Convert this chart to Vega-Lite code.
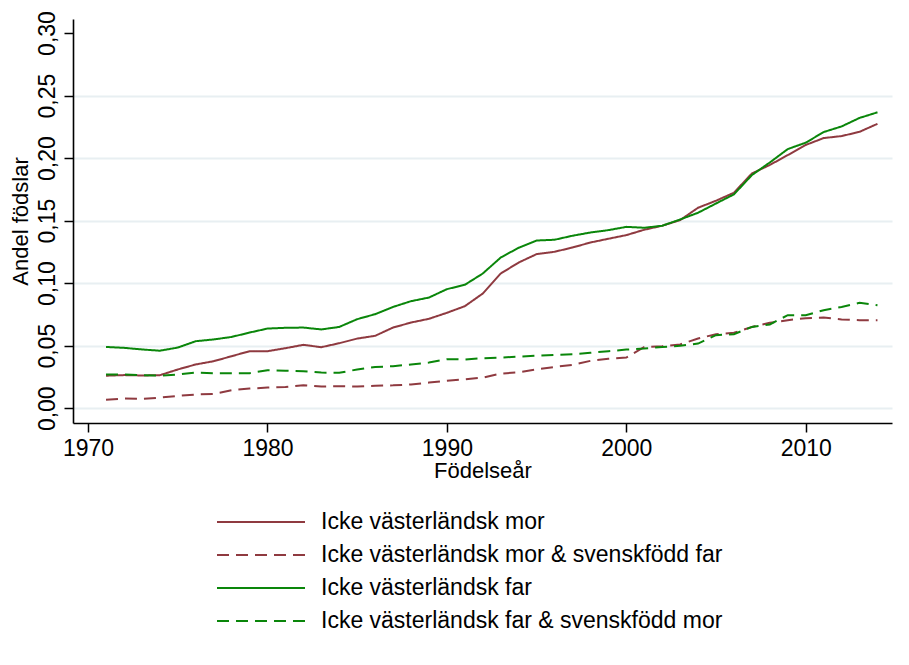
{
  "$schema": "https://vega.github.io/schema/vega-lite/v6.json",
  "width": 819,
  "height": 404,
  "autosize": {"type": "none"},
  "padding": {"left": 73, "top": 19, "right": 17, "bottom": 242},
  "background": "white",
  "config": {
    "view": {"stroke": null},
    "font": "Liberation Sans"
  },
  "data": {
    "values": [
      {"year": 1971, "Icke västerländsk mor": 0.026, "Icke västerländsk mor & svenskfödd far": 0.0067, "Icke västerländsk far": 0.049, "Icke västerländsk far & svenskfödd mor": 0.027},
      {"year": 1972, "Icke västerländsk mor": 0.0265, "Icke västerländsk mor & svenskfödd far": 0.0077, "Icke västerländsk far": 0.0483, "Icke västerländsk far & svenskfödd mor": 0.027},
      {"year": 1973, "Icke västerländsk mor": 0.0262, "Icke västerländsk mor & svenskfödd far": 0.0075, "Icke västerländsk far": 0.047, "Icke västerländsk far & svenskfödd mor": 0.0265},
      {"year": 1974, "Icke västerländsk mor": 0.0264, "Icke västerländsk mor & svenskfödd far": 0.0085, "Icke västerländsk far": 0.046, "Icke västerländsk far & svenskfödd mor": 0.026},
      {"year": 1975, "Icke västerländsk mor": 0.031, "Icke västerländsk mor & svenskfödd far": 0.0099, "Icke västerländsk far": 0.0485, "Icke västerländsk far & svenskfödd mor": 0.027},
      {"year": 1976, "Icke västerländsk mor": 0.035, "Icke västerländsk mor & svenskfödd far": 0.011, "Icke västerländsk far": 0.0536, "Icke västerländsk far & svenskfödd mor": 0.0285},
      {"year": 1977, "Icke västerländsk mor": 0.0376, "Icke västerländsk mor & svenskfödd far": 0.0115, "Icke västerländsk far": 0.055, "Icke västerländsk far & svenskfödd mor": 0.028},
      {"year": 1978, "Icke västerländsk mor": 0.0416, "Icke västerländsk mor & svenskfödd far": 0.0144, "Icke västerländsk far": 0.057, "Icke västerländsk far & svenskfödd mor": 0.028},
      {"year": 1979, "Icke västerländsk mor": 0.0456, "Icke västerländsk mor & svenskfödd far": 0.0157, "Icke västerländsk far": 0.0605, "Icke västerländsk far & svenskfödd mor": 0.028},
      {"year": 1980, "Icke västerländsk mor": 0.0456, "Icke västerländsk mor & svenskfödd far": 0.0165, "Icke västerländsk far": 0.0637, "Icke västerländsk far & svenskfödd mor": 0.0304},
      {"year": 1981, "Icke västerländsk mor": 0.048, "Icke västerländsk mor & svenskfödd far": 0.017, "Icke västerländsk far": 0.0643, "Icke västerländsk far & svenskfödd mor": 0.03},
      {"year": 1982, "Icke västerländsk mor": 0.0507, "Icke västerländsk mor & svenskfödd far": 0.0184, "Icke västerländsk far": 0.0645, "Icke västerländsk far & svenskfödd mor": 0.0296},
      {"year": 1983, "Icke västerländsk mor": 0.0488, "Icke västerländsk mor & svenskfödd far": 0.0173, "Icke västerländsk far": 0.063, "Icke västerländsk far & svenskfödd mor": 0.0285},
      {"year": 1984, "Icke västerländsk mor": 0.052, "Icke västerländsk mor & svenskfödd far": 0.0176, "Icke västerländsk far": 0.065, "Icke västerländsk far & svenskfödd mor": 0.0283},
      {"year": 1985, "Icke västerländsk mor": 0.0557, "Icke västerländsk mor & svenskfödd far": 0.0173, "Icke västerländsk far": 0.0712, "Icke västerländsk far & svenskfödd mor": 0.031},
      {"year": 1986, "Icke västerländsk mor": 0.0579, "Icke västerländsk mor & svenskfödd far": 0.018, "Icke västerländsk far": 0.0752, "Icke västerländsk far & svenskfödd mor": 0.033},
      {"year": 1987, "Icke västerländsk mor": 0.0645, "Icke västerländsk mor & svenskfödd far": 0.0183, "Icke västerländsk far": 0.081, "Icke västerländsk far & svenskfödd mor": 0.0336},
      {"year": 1988, "Icke västerländsk mor": 0.0685, "Icke västerländsk mor & svenskfödd far": 0.019, "Icke västerländsk far": 0.0856, "Icke västerländsk far & svenskfödd mor": 0.035},
      {"year": 1989, "Icke västerländsk mor": 0.0715, "Icke västerländsk mor & svenskfödd far": 0.0205, "Icke västerländsk far": 0.0885, "Icke västerländsk far & svenskfödd mor": 0.0365},
      {"year": 1990, "Icke västerländsk mor": 0.0763, "Icke västerländsk mor & svenskfödd far": 0.022, "Icke västerländsk far": 0.0952, "Icke västerländsk far & svenskfödd mor": 0.0392},
      {"year": 1991, "Icke västerländsk mor": 0.0816, "Icke västerländsk mor & svenskfödd far": 0.0232, "Icke västerländsk far": 0.0987, "Icke västerländsk far & svenskfödd mor": 0.039},
      {"year": 1992, "Icke västerländsk mor": 0.0917, "Icke västerländsk mor & svenskfödd far": 0.0245, "Icke västerländsk far": 0.1077, "Icke västerländsk far & svenskfödd mor": 0.04},
      {"year": 1993, "Icke västerländsk mor": 0.1077, "Icke västerländsk mor & svenskfödd far": 0.0277, "Icke västerländsk far": 0.1205, "Icke västerländsk far & svenskfödd mor": 0.0405},
      {"year": 1994, "Icke västerländsk mor": 0.1165, "Icke västerländsk mor & svenskfödd far": 0.0288, "Icke västerländsk far": 0.1283, "Icke västerländsk far & svenskfödd mor": 0.0413},
      {"year": 1995, "Icke västerländsk mor": 0.1232, "Icke västerländsk mor & svenskfödd far": 0.031, "Icke västerländsk far": 0.1341, "Icke västerländsk far & svenskfödd mor": 0.042},
      {"year": 1996, "Icke västerländsk mor": 0.1251, "Icke västerländsk mor & svenskfödd far": 0.033, "Icke västerländsk far": 0.1347, "Icke västerländsk far & svenskfödd mor": 0.0427},
      {"year": 1997, "Icke västerländsk mor": 0.1285, "Icke västerländsk mor & svenskfödd far": 0.0347, "Icke västerländsk far": 0.1379, "Icke västerländsk far & svenskfödd mor": 0.0432},
      {"year": 1998, "Icke västerländsk mor": 0.1325, "Icke västerländsk mor & svenskfödd far": 0.0379, "Icke västerländsk far": 0.1405, "Icke västerländsk far & svenskfödd mor": 0.0443},
      {"year": 1999, "Icke västerländsk mor": 0.1355, "Icke västerländsk mor & svenskfödd far": 0.0395, "Icke västerländsk far": 0.1424, "Icke västerländsk far & svenskfödd mor": 0.0456},
      {"year": 2000, "Icke västerländsk mor": 0.1384, "Icke västerländsk mor & svenskfödd far": 0.0405, "Icke västerländsk far": 0.145, "Icke västerländsk far & svenskfödd mor": 0.0469},
      {"year": 2001, "Icke västerländsk mor": 0.1427, "Icke västerländsk mor & svenskfödd far": 0.049, "Icke västerländsk far": 0.1443, "Icke västerländsk far & svenskfödd mor": 0.0477},
      {"year": 2002, "Icke västerländsk mor": 0.1459, "Icke västerländsk mor & svenskfödd far": 0.0496, "Icke västerländsk far": 0.1459, "Icke västerländsk far & svenskfödd mor": 0.049},
      {"year": 2003, "Icke västerländsk mor": 0.1504, "Icke västerländsk mor & svenskfödd far": 0.051, "Icke västerländsk far": 0.1509, "Icke västerländsk far & svenskfödd mor": 0.0499},
      {"year": 2004, "Icke västerländsk mor": 0.1603, "Icke västerländsk mor & svenskfödd far": 0.0557, "Icke västerländsk far": 0.1563, "Icke västerländsk far & svenskfödd mor": 0.0517},
      {"year": 2005, "Icke västerländsk mor": 0.1659, "Icke västerländsk mor & svenskfödd far": 0.0592, "Icke västerländsk far": 0.1637, "Icke västerländsk far & svenskfödd mor": 0.0584},
      {"year": 2006, "Icke västerländsk mor": 0.1723, "Icke västerländsk mor & svenskfödd far": 0.0603, "Icke västerländsk far": 0.171, "Icke västerländsk far & svenskfödd mor": 0.0592},
      {"year": 2007, "Icke västerländsk mor": 0.1877, "Icke västerländsk mor & svenskfödd far": 0.065, "Icke västerländsk far": 0.1864, "Icke västerländsk far & svenskfödd mor": 0.065},
      {"year": 2008, "Icke västerländsk mor": 0.1945, "Icke västerländsk mor & svenskfödd far": 0.0683, "Icke västerländsk far": 0.1965, "Icke västerländsk far & svenskfödd mor": 0.067},
      {"year": 2009, "Icke västerländsk mor": 0.2024, "Icke västerländsk mor & svenskfödd far": 0.0704, "Icke västerländsk far": 0.2072, "Icke västerländsk far & svenskfödd mor": 0.0744},
      {"year": 2010, "Icke västerländsk mor": 0.2105, "Icke västerländsk mor & svenskfödd far": 0.072, "Icke västerländsk far": 0.2123, "Icke västerländsk far & svenskfödd mor": 0.0744},
      {"year": 2011, "Icke västerländsk mor": 0.216, "Icke västerländsk mor & svenskfödd far": 0.0725, "Icke västerländsk far": 0.2208, "Icke västerländsk far & svenskfödd mor": 0.0784},
      {"year": 2012, "Icke västerländsk mor": 0.2176, "Icke västerländsk mor & svenskfödd far": 0.071, "Icke västerländsk far": 0.2253, "Icke västerländsk far & svenskfödd mor": 0.081},
      {"year": 2013, "Icke västerländsk mor": 0.221, "Icke västerländsk mor & svenskfödd far": 0.0704, "Icke västerländsk far": 0.2321, "Icke västerländsk far & svenskfödd mor": 0.0843},
      {"year": 2014, "Icke västerländsk mor": 0.2274, "Icke västerländsk mor & svenskfödd far": 0.0704, "Icke västerländsk far": 0.2366, "Icke västerländsk far & svenskfödd mor": 0.0824}
    ]
  },
  "transform": [
    {"fold": ["Icke västerländsk mor", "Icke västerländsk mor & svenskfödd far", "Icke västerländsk far", "Icke västerländsk far & svenskfödd mor"], "as": ["series", "value"]}
  ],
  "mark": {"type": "line", "strokeWidth": 2},
  "encoding": {
    "x": {
      "field": "year",
      "type": "quantitative",
      "scale": {"domain": [1969.16, 2014.81], "nice": false, "zero": false},
      "axis": {
        "title": "Födelseår",
        "values": [1970, 1980, 1990, 2000, 2010],
        "format": "d",
        "grid": false,
        "domainColor": "#000000",
        "domainWidth": 1.6,
        "tickColor": "#000000",
        "tickWidth": 1.5,
        "tickSize": 9,
        "labelFontSize": 23,
        "labelColor": "#000000",
        "labelPadding": 5,
        "labelFont": "Liberation Sans",
        "titleFont": "Liberation Sans",
        "titleFontSize": 22,
        "titleFontWeight": "normal",
        "titleColor": "#000000",
        "titleX": 409.5,
        "titleY": 47,
        "titleBaseline": "middle",
        "titleAlign": "center"
      }
    },
    "y": {
      "field": "value",
      "type": "quantitative",
      "scale": {"domain": [-0.0118, 0.3112], "nice": false, "zero": false},
      "axis": {
        "title": "Andel födslar",
        "values": [0, 0.05, 0.1, 0.15, 0.2, 0.25, 0.3],
        "labelExpr": "replace(format(datum.value, '.2f'), '.', ',')",
        "grid": true,
        "gridColor": "#e8eff2",
        "gridWidth": 2,
        "gridOpacity": {"condition": {"test": "datum.value > 0.29", "value": 0}, "value": 1},
        "domainColor": "#000000",
        "domainWidth": 1.6,
        "tickColor": "#000000",
        "tickWidth": 1.5,
        "tickSize": 9,
        "labelFontSize": 23,
        "labelColor": "#000000",
        "labelAngle": -90,
        "labelAlign": "center",
        "labelBaseline": "alphabetic",
        "labelPadding": 10,
        "labelFont": "Liberation Sans",
        "titleFont": "Liberation Sans",
        "titleFontSize": 22,
        "titleFontWeight": "normal",
        "titleColor": "#000000",
        "titleAngle": -90,
        "titleX": -53,
        "titleY": 202,
        "titleBaseline": "middle",
        "titleAlign": "center"
      }
    },
    "color": {
      "field": "series",
      "type": "nominal",
      "scale": {
        "domain": ["Icke västerländsk mor", "Icke västerländsk mor & svenskfödd far", "Icke västerländsk far", "Icke västerländsk far & svenskfödd mor"],
        "range": ["#8f3a40", "#8f3a40", "#0a860a", "#0a860a"]
      },
      "legend": {
        "title": null,
        "orient": "none",
        "legendX": 143,
        "legendY": 493,
        "padding": 0,
        "symbolType": "stroke",
        "symbolSize": 7744,
        "symbolStrokeWidth": 2,
        "clipHeight": 20,
        "labelFontSize": 23,
        "labelFont": "Liberation Sans",
        "labelColor": "#000000",
        "labelOffset": 15,
        "rowPadding": 10,
        "labelLimit": 700
      }
    },
    "strokeDash": {
      "field": "series",
      "type": "nominal",
      "scale": {
        "domain": ["Icke västerländsk mor", "Icke västerländsk mor & svenskfödd far", "Icke västerländsk far", "Icke västerländsk far & svenskfödd mor"],
        "range": [[1, 0], [12, 7], [1, 0], [12, 7]]
      },
      "legend": {
        "title": null,
        "orient": "none",
        "legendX": 143,
        "legendY": 493,
        "padding": 0,
        "symbolType": "stroke",
        "symbolSize": 7744,
        "symbolStrokeWidth": 2,
        "clipHeight": 20,
        "labelFontSize": 23,
        "labelFont": "Liberation Sans",
        "labelColor": "#000000",
        "labelOffset": 15,
        "rowPadding": 10,
        "labelLimit": 700
      }
    }
  }
}
